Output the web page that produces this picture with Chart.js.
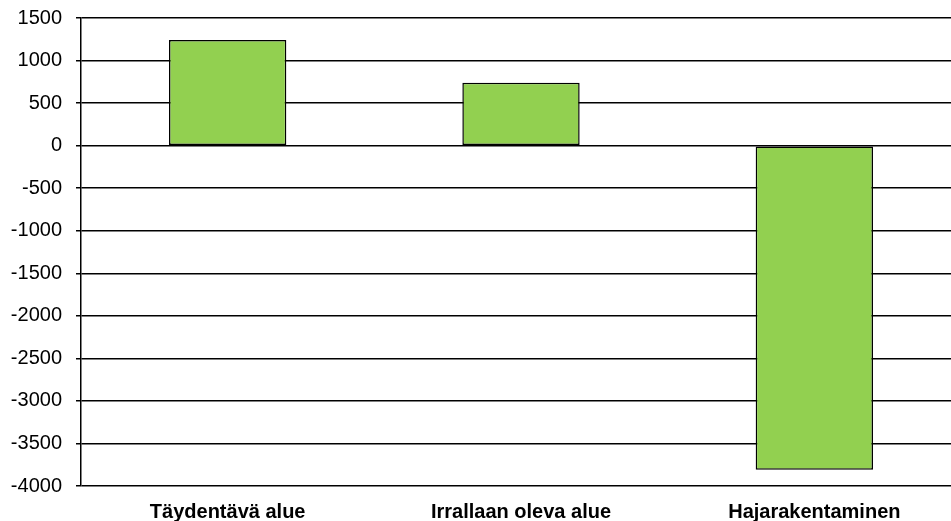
<!DOCTYPE html>
<html>
<head>
<meta charset="utf-8">
<script src="https://cdn.jsdelivr.net/npm/chart.js@4"></script>
<style>
  html, body { margin: 0; padding: 0; background: #fff; overflow: hidden; }
  #wrap { width: 951px; height: 521px; overflow: hidden; }
</style>
</head>
<body>
<div id="wrap"><canvas id="c" width="961" height="521"></canvas></div>
<script>
// Categories and values
const categories = ['Täydentävä alue', 'Irrallaan oleva alue', 'Hajarakentaminen'];
const values = [1240, 740, -3810];
const yTicks = [1500, 1000, 500, 0, -500, -1000, -1500, -2000, -2500, -3000, -3500, -4000];

const FONT = "'Liberation Sans', Arial, sans-serif";

new Chart(document.getElementById('c'), {
  type: 'bar',
  data: {
    labels: categories,
    datasets: [{
      data: values,
      backgroundColor: '#92D050',
      borderColor: '#000000',
      borderWidth: 1.5,
      borderSkipped: false,
      barPercentage: 0.4,
      categoryPercentage: 1.0
    }]
  },
  options: {
    responsive: false,
    animation: false,
    devicePixelRatio: 1,
    layout: { padding: { top: 18, right: 0, bottom: 0, left: 0 } },
    plugins: { legend: { display: false }, tooltip: { enabled: false } },
    scales: {
      x: {
        grid: { display: false, drawTicks: false },
        border: { display: false },
        ticks: {
          color: '#000',
          padding: 14,
          maxRotation: 0,
          font: { family: FONT, size: 20, weight: 'bold' }
        },
        afterFit: (s) => { s.height = 35; s.paddingLeft = 0; s.paddingRight = 0; }
      },
      y: {
        min: -4000,
        max: 1500,
        afterBuildTicks: (s) => { s.ticks = yTicks.map(v => ({ value: v })); },
        grid: { color: '#000', lineWidth: 1.5, tickLength: 5, drawTicks: true },
        border: { display: true, color: '#000', width: 1.5 },
        ticks: {
          color: '#000',
          padding: 14,
          callback: (v) => String(v),
          font: { family: FONT, size: 20 }
        },
        afterFit: (s) => { s.width = 81; s.paddingTop = 0; s.paddingBottom = 0; }
      }
    }
  }
});
</script>
</body>
</html>
